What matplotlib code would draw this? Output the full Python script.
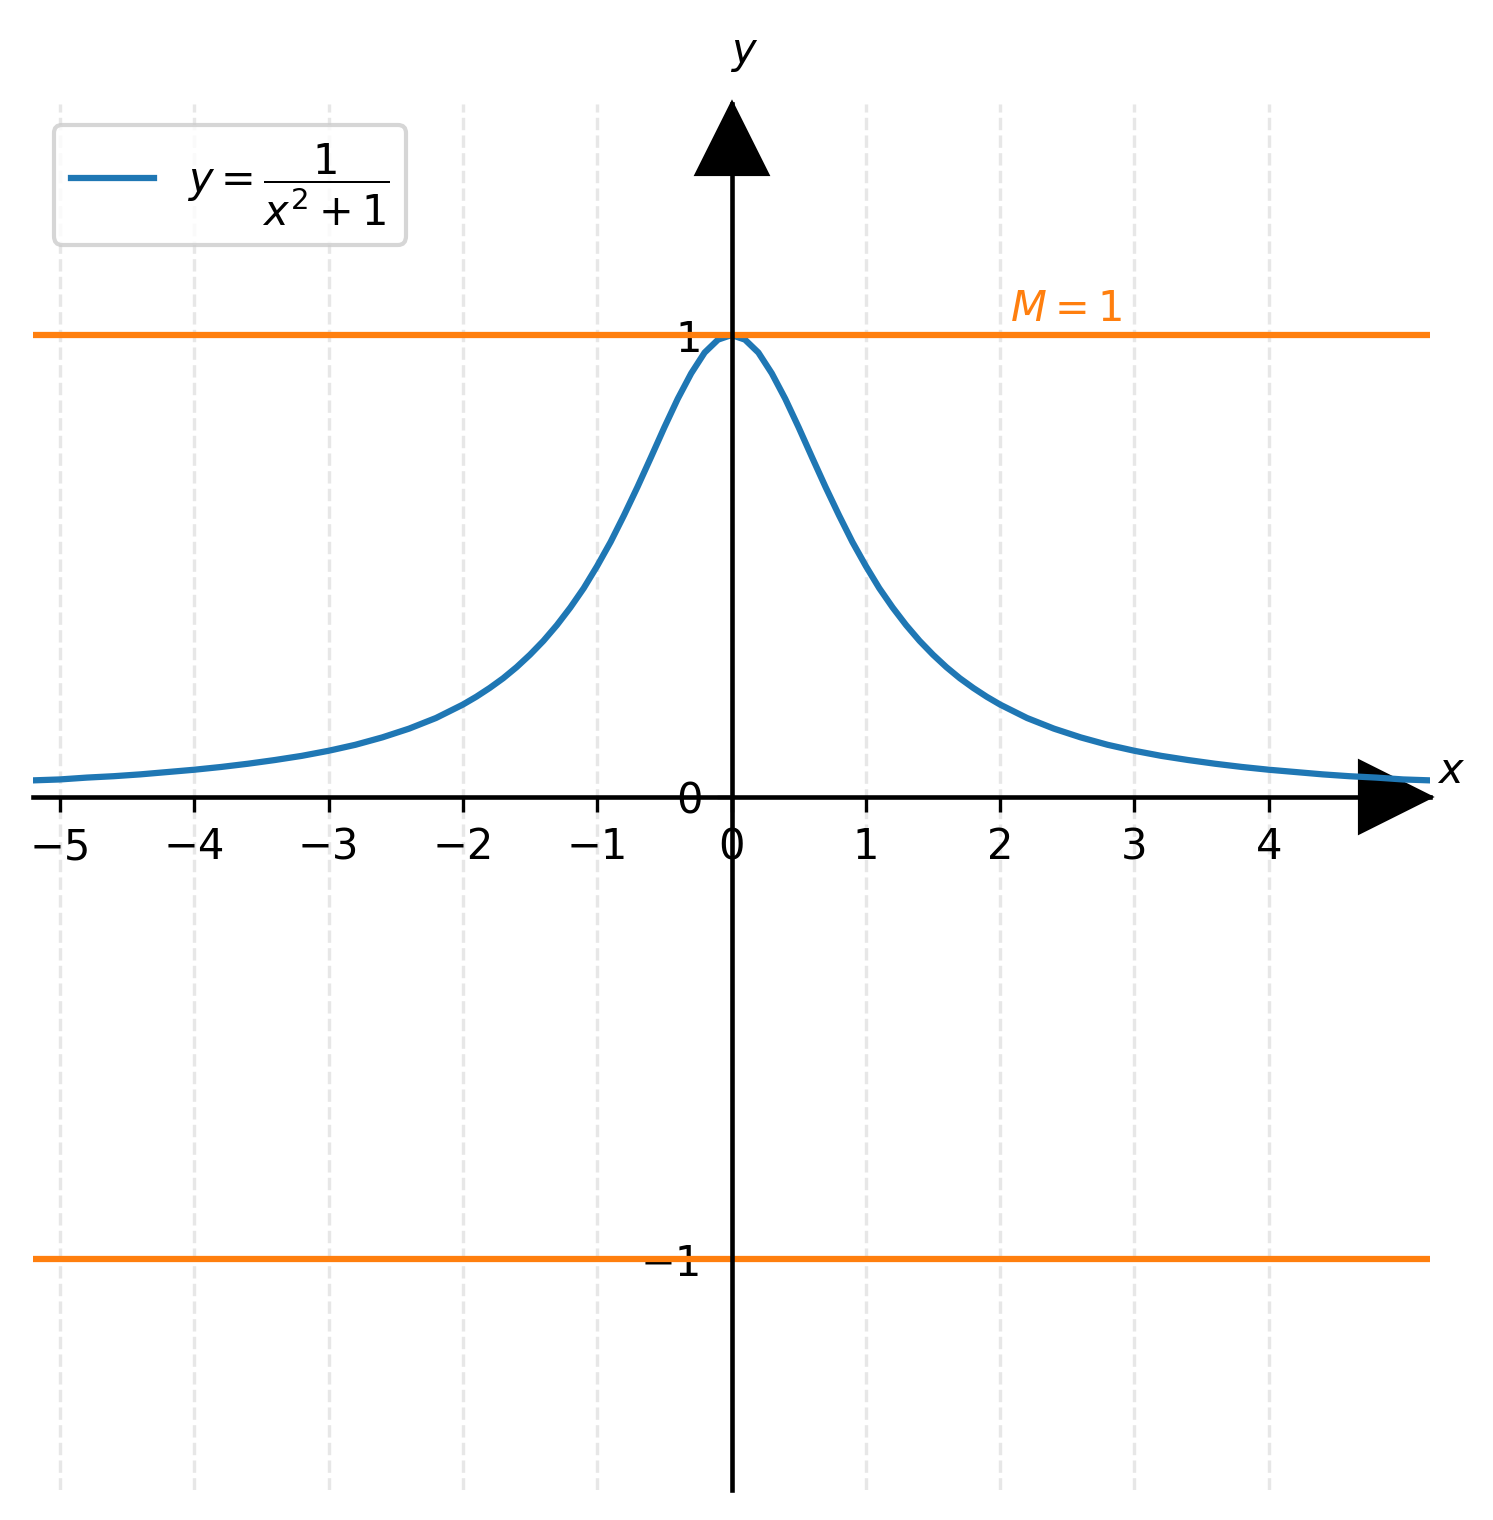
import numpy as np
import matplotlib
matplotlib.use("Agg")
import matplotlib.pyplot as plt

# Curve samples (y = 1 / (x^2 + 1))
x_vals = [-5.2, -5.0, -4.8, -4.6, -4.4, -4.2, -4.0, -3.8, -3.6, -3.4, -3.2,
          -3.0, -2.8, -2.6, -2.4, -2.2, -2.0, -1.9, -1.8, -1.7, -1.6, -1.5,
          -1.4, -1.3, -1.2, -1.1, -1.0, -0.9, -0.8, -0.7, -0.6, -0.5, -0.4,
          -0.3, -0.2, -0.1, 0.0, 0.1, 0.2, 0.3, 0.4, 0.5, 0.6, 0.7, 0.8, 0.9,
          1.0, 1.1, 1.2, 1.3, 1.4, 1.5, 1.6, 1.7, 1.8, 1.9, 2.0, 2.2, 2.4,
          2.6, 2.8, 3.0, 3.2, 3.4, 3.6, 3.8, 4.0, 4.2, 4.4, 4.6, 4.8, 5.0, 5.2]
y_vals = [0.036, 0.038, 0.042, 0.045, 0.049, 0.054, 0.059, 0.065, 0.072, 0.080, 0.089,
          0.100, 0.113, 0.129, 0.148, 0.171, 0.200, 0.217, 0.236, 0.257, 0.281, 0.308,
          0.338, 0.372, 0.410, 0.452, 0.500, 0.552, 0.610, 0.671, 0.735, 0.800, 0.862,
          0.917, 0.962, 0.990, 1.000, 0.990, 0.962, 0.917, 0.862, 0.800, 0.735, 0.671,
          0.610, 0.552, 0.500, 0.452, 0.410, 0.372, 0.338, 0.308, 0.281, 0.257, 0.236,
          0.217, 0.200, 0.171, 0.148, 0.129, 0.113, 0.100, 0.089, 0.080, 0.072, 0.065,
          0.059, 0.054, 0.049, 0.045, 0.042, 0.038, 0.036]

bound_levels = [1, -1]
x_ticks = [-5, -4, -3, -2, -1, 0, 1, 2, 3, 4]
y_ticks = [-1, 0, 1]
x_min, x_max = -5.2, 5.2
y_min, y_max = -1.5, 1.5

fig = plt.figure(figsize=(1493 / 300, 1520 / 300), dpi=300)
ax = fig.add_axes([33 / 1493, 30 / 1520, 1397 / 1493, 1386 / 1520])

ax.set_xlim(x_min, x_max)
ax.set_ylim(y_min, y_max)

# Axes through the origin
ax.spines['left'].set_position(('data', 0))
ax.spines['bottom'].set_position(('data', 0))
ax.spines['right'].set_visible(False)
ax.spines['top'].set_visible(False)
ax.spines['left'].set_linewidth(1.1)
ax.spines['bottom'].set_linewidth(1.1)

ax.set_xticks(x_ticks)
ax.set_yticks(y_ticks)
ax.grid(True, axis='x', linestyle='--', alpha=0.3)

# Arrow heads
ax.plot(0.95 * x_max, 0, '>k', markersize=17, clip_on=False)
ax.plot(0, 0.95 * y_max, '^k', markersize=17, clip_on=False)

ax.plot(x_vals, y_vals, color='C0', lw=1.5, label=r'$y = \dfrac{1}{x^2 + 1}$')

for level in bound_levels:
    ax.axhline(level, color='C1', lw=1.5)
ax.text(2.07, 1.03, r'$M = 1$', color='C1', fontsize=10)

ax.text(1.015, 0.519, r'$x$', transform=ax.transAxes, ha='center', va='center', fontsize=10)
ax.text(0.509, 1.037, r'$y$', transform=ax.transAxes, ha='center', va='center', fontsize=10)

ax.legend(loc='upper left')

fig.savefig("out.png", dpi=300)
plt.close(fig)
